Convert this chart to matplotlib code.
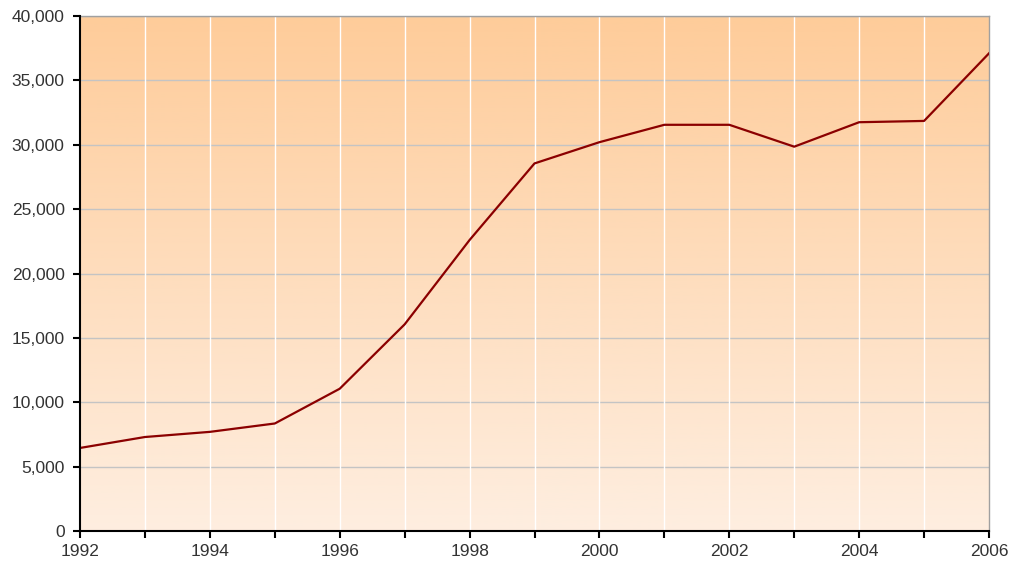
import numpy as np
import matplotlib.pyplot as plt
from matplotlib.ticker import FuncFormatter, MultipleLocator
from matplotlib.colors import LinearSegmentedColormap

# Data
years = [1992, 1993, 1994, 1995, 1996, 1997, 1998, 1999,
         2000, 2001, 2002, 2003, 2004, 2005, 2006]
values = [6450, 7300, 7700, 8350, 11050, 16050, 22600, 28550,
          30200, 31550, 31550, 29850, 31750, 31850, 37100]

plt.rcParams['font.family'] = ['Liberation Sans', 'DejaVu Sans']

fig = plt.figure(figsize=(10.11, 5.63), dpi=100)
ax = fig.add_axes([80 / 1011, 32 / 563, 909 / 1011, 515 / 563])

# Gradient background (light at bottom, peach at top)
grad_cmap = LinearSegmentedColormap.from_list('peach', ['#FEEEE0', '#FECC9A'])
grad = np.linspace(0, 1, 256).reshape(-1, 1)
ax.imshow(grad, cmap=grad_cmap, aspect='auto', origin='lower',
          extent=[1992, 2006, 0, 40000], zorder=0)

ax.set_xlim(1992, 2006)
ax.set_ylim(0, 40000)

# Gridlines
for yv in range(5000, 40001, 5000):
    ax.axhline(yv, color='#C4C4C4', linewidth=1.0, zorder=1)
for xv in years[1:-1]:
    ax.axvline(xv, color='white', linewidth=1.0, zorder=1)

ax.plot(years, values, color='#8B0000', linewidth=1.6, zorder=3)

ax.xaxis.set_major_locator(MultipleLocator(2))
ax.xaxis.set_minor_locator(MultipleLocator(1))
ax.yaxis.set_major_locator(MultipleLocator(5000))
ax.yaxis.set_major_formatter(FuncFormatter(lambda v, p: f'{int(v):,}'))

ax.tick_params(axis='both', which='both', direction='out', length=5,
               width=1.5, colors='black', labelcolor='#333333', labelsize=12.5)
ax.tick_params(axis='x', pad=4)
ax.tick_params(axis='y', pad=6)

for side in ['left', 'bottom']:
    ax.spines[side].set_color('black')
    ax.spines[side].set_linewidth(1.5)
    ax.spines[side].set_zorder(4)
for side in ['top', 'right']:
    ax.spines[side].set_color('#A0A0A0')
    ax.spines[side].set_linewidth(1.0)

fig.savefig('out.png', dpi=100)
